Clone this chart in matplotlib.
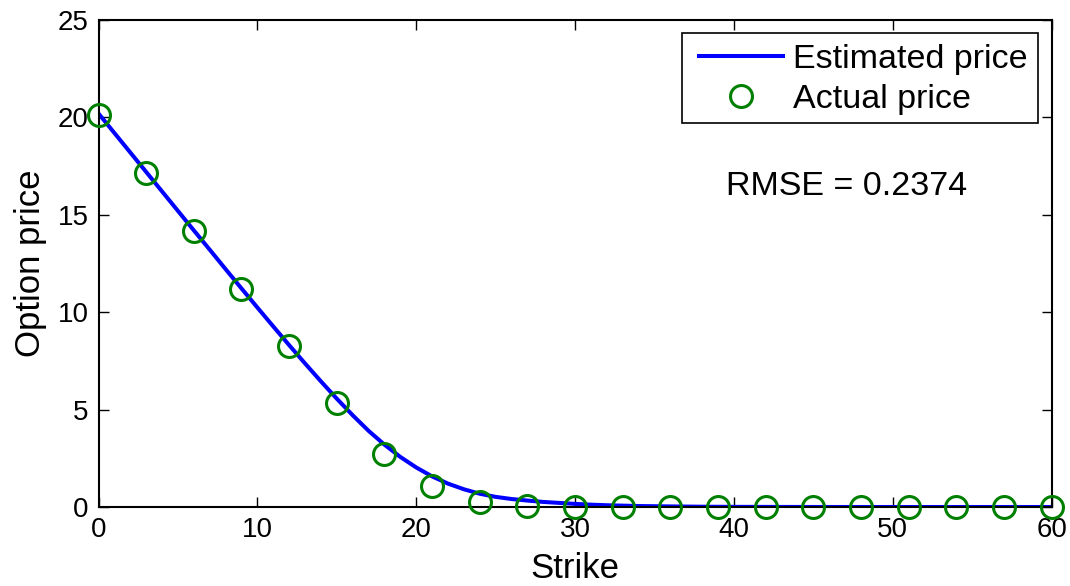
import matplotlib
matplotlib.use("Agg")
import matplotlib.pyplot as plt
from matplotlib.patches import Rectangle

plt.rcParams['font.family'] = ['Liberation Sans', 'DejaVu Sans']

# Estimated (model) price curve, sampled along strike
est_strike = [0, 1, 2, 3, 4, 5, 6, 7, 8, 9, 10, 11, 12, 13, 14, 15, 16, 17, 18,
              19, 20, 21, 22, 23, 24, 25, 26, 27, 28, 29, 30, 31, 32, 33, 34,
              35, 36, 38, 40, 45, 50, 55, 60]
est_price = [20.20, 19.20, 18.20, 17.20, 16.20, 15.20, 14.20, 13.21, 12.21,
             11.22, 10.24, 9.27, 8.31, 7.37, 6.45, 5.56, 4.71, 3.91, 3.20,
             2.57, 2.03, 1.57, 1.20, 0.91, 0.68, 0.52, 0.41, 0.33, 0.26, 0.21,
             0.16, 0.12, 0.09, 0.07, 0.05, 0.04, 0.03, 0.015, 0.008, 0.001,
             0.0, 0.0, 0.0]

# Observed market prices
act_strike = [0, 3, 6, 9, 12, 15, 18, 21, 24, 27, 30, 33, 36, 39, 42, 45,
              48, 51, 54, 57, 60]
act_price = [20.12, 17.13, 14.19, 11.21, 8.27, 5.32, 2.74, 1.06, 0.26, 0.06,
             0.01, 0.0, 0.0, 0.0, 0.0, 0.0, 0.0, 0.0, 0.0, 0.0, 0.0]

rmse_text = "RMSE = 0.2374"

W, H = 1070, 586
fig = plt.figure(figsize=(W / 100, H / 100), dpi=100)
ax = fig.add_axes([98.5 / W, 1 - 507 / H, 953.2 / W, 487 / H])

ax.plot(est_strike, est_price, color='#0000ff', lw=2.9,
        label='Estimated price', zorder=2)
ax.plot(act_strike, act_price, ls='none', marker='o', ms=15.8,
        mfc='none', mec='#008000', mew=2.2, label='Actual price',
        clip_on=False, zorder=3)

ax.set_xlim(0, 60)
ax.set_ylim(0, 25)
ax.set_xticks(range(0, 61, 10))
ax.set_yticks(range(0, 26, 5))
ax.tick_params(direction='in', length=7, width=1.0, labelsize=20,
               top=True, right=True, pad=7)
for s in ax.spines.values():
    s.set_linewidth(1.5)

ax.set_xlabel('Strike', fontsize=25)
ax.xaxis.label.set_va('bottom')
ax.xaxis.set_label_coords(0.5, -(585.5 - 507) / 487)
ax.set_ylabel('Option price', fontsize=25)
ax.yaxis.set_label_coords((47 - 98.5) / 953.2, 0.5)

# Legend entries placed without their own frame; a box is drawn around them
leg = ax.legend(loc='upper left', fontsize=24.5, frameon=False,
                handlelength=2.47, handletextpad=0.29, borderpad=0.0,
                labelspacing=0.27, borderaxespad=0.0,
                bbox_to_anchor=(699 / W, 1 - 44 / H),
                bbox_transform=fig.transFigure)
leg.set_zorder(6)
box = Rectangle((682 / W, 1 - 123 / H), 356 / W, 90 / H,
                transform=fig.transFigure, fill=True, facecolor='white',
                edgecolor='black', linewidth=1.2, zorder=5, clip_on=False)
ax.add_patch(box)

ax.text(39.47, 16.02, rmse_text, fontsize=24.5, va='baseline', ha='left')

fig.savefig('out.png', dpi=100)
